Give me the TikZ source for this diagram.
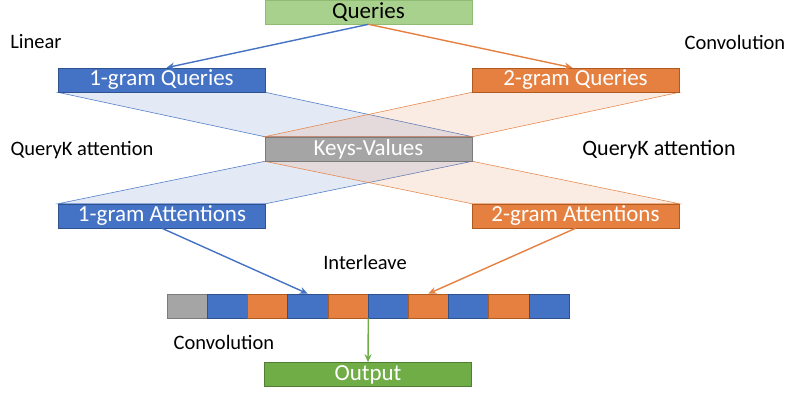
\documentclass[tikz,border=0pt]{standalone}
\usepackage{fontspec}
\setmainfont{Carlito}
\usetikzlibrary{arrows.meta,backgrounds}
\definecolor{oblue}{HTML}{4472C4}
\definecolor{oblueD}{HTML}{2F528F}
\definecolor{oorange}{HTML}{E58040}
\definecolor{oorangeD}{HTML}{AE5A21}
\definecolor{ogray}{HTML}{A5A5A5}
\definecolor{ograyD}{HTML}{7B7B7B}
\definecolor{ogreenL}{HTML}{A9D18E}
\definecolor{ogreenLD}{HTML}{8FBC72}
\definecolor{ogreen}{HTML}{70AD47}
\definecolor{ogreenD}{HTML}{507E32}
\tikzset{
  box/.style={minimum width=207pt, minimum height=24pt, inner sep=0pt, line width=0.6pt,
    font=\fontsize{23}{24}\selectfont},
  bluebox/.style={box, fill=oblue, draw=oblueD, text=white},
  orangebox/.style={box, fill=oorange, draw=oorangeD, text=white},
  graybox/.style={box, fill=ogray, draw=ograyD, text=white},
  lgreenbox/.style={box, fill=ogreenL, draw=ogreenLD, text=black},
  greenbox/.style={box, fill=ogreen, draw=ogreenD, text=white},
  lbl/.style={font=\fontsize{20.5}{22}\selectfont, inner sep=0pt, text=black},
  cell/.style={minimum width=40.2pt, minimum height=24pt, inner sep=0pt, line width=0.6pt},
  bcell/.style={cell, fill=oblue, draw=oblueD},
  ocell/.style={cell, fill=oorange, draw=oorangeD},
  gcell/.style={cell, fill=ogray, draw=ograyD},
  barrow/.style={draw=oblue, line width=1.4pt, -{Stealth[length=8pt,width=7pt]}},
  oarrow/.style={draw=oorange, line width=1.4pt, -{Stealth[length=8pt,width=7pt]}},
  garrow/.style={draw=ogreen, line width=1.4pt, -{Stealth[length=8pt,width=7pt]}},
  bpar/.style={fill=oblue, fill opacity=0.15, draw=oblue, draw opacity=0.9, line width=0.6pt},
  opar/.style={fill=oorange, fill opacity=0.15, draw=oorange, draw opacity=0.9, line width=0.6pt},
}
\begin{document}
\begin{tikzpicture}[x=1pt,y=-1pt]
\useasboundingbox (0,0) rectangle (789,394);
% boxes
\node[lgreenbox] (q) at (368.5,12) {Queries};
\node[bluebox] (qa1) at (161.5,80) {1-gram Queries};
\node[orangebox] (qa2) at (575.5,80) {2-gram Queries};
\node[graybox] (kv) at (368.5,149) {Keys-Values};
\node[bluebox] (at1) at (162,216) {1-gram Attentions};
\node[orangebox] (at2) at (575.5,216) {2-gram Attentions};
\node[greenbox] (out) at (368,374.5) {Output};
% labels
\node[lbl] (l1) at (36,42) {Linear};
\node[lbl] (l2) at (735,42) {Convolution};
\node[lbl] (l3) at (82,150) {QueryK attention};
\node[lbl, font=\fontsize{22}{23}\selectfont] (l4) at (659,150) {QueryK attention};
\node[lbl] (l5) at (365,262) {Interleave};
\node[lbl] (l6) at (224,342) {Convolution};
% strip
\foreach \i/\s in {1/gcell,2/bcell,3/ocell,4/bcell,5/ocell,6/bcell,7/ocell,8/bcell,9/ocell,10/bcell}{
  \node[\s] (c\i) at ({167+40.2*(\i-0.5)},306) {};
}
% parallelograms
\begin{pgfonlayer}{background}
\path[bpar] (qa1.south west) -- (qa1.south east) -- (kv.north east) -- (kv.north west) -- cycle;
\path[opar] (qa2.south west) -- (qa2.south east) -- (kv.north east) -- (kv.north west) -- cycle;
\path[bpar] (kv.south west) -- (kv.south east) -- (at1.north east) -- (at1.north west) -- cycle;
\path[opar] (kv.south west) -- (kv.south east) -- (at2.north east) -- (at2.north west) -- cycle;
\end{pgfonlayer}
% arrows
\draw[barrow] (q.south) -- ([xshift=5pt]qa1.north);
\draw[oarrow] (q.south) -- ([xshift=-3pt]qa2.north);
\draw[barrow] (at1.south) -- (c4.north);
\draw[oarrow] (at2.south) -- (c7.north);
\draw[garrow] (c5.south east) -- (out.north);
\end{tikzpicture}
\end{document}
